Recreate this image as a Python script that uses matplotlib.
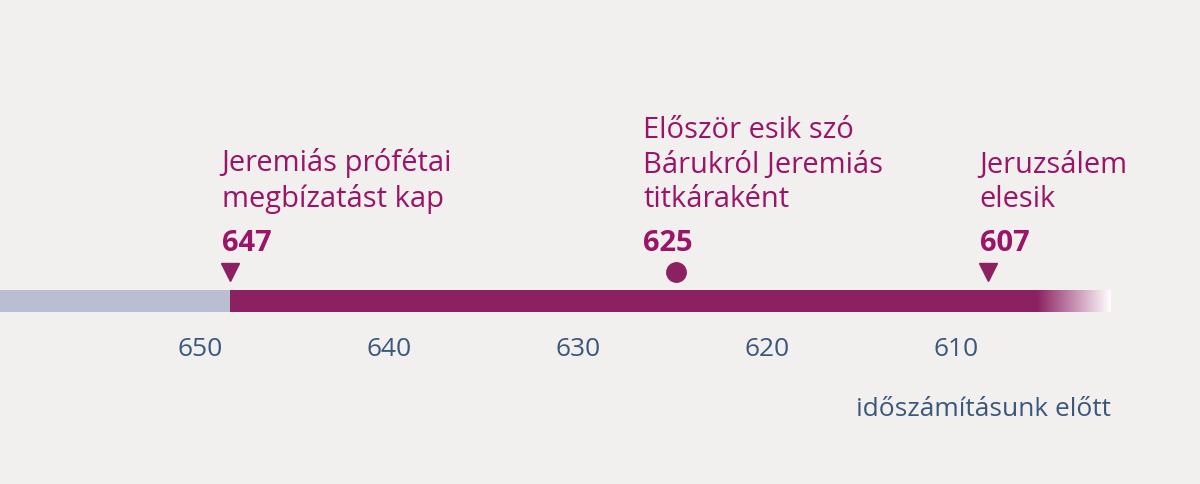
import matplotlib
matplotlib.use("Agg")
import matplotlib.pyplot as plt
import numpy as np
from matplotlib.colors import LinearSegmentedColormap

tick_years = [650, 640, 630, 620, 610]
event_years = [647, 625, 607]
event_pos = [648.4, 624.8, 608.3]
event_texts = ["Jeremiás prófétai\nmegbízatást kap",
               "Először esik szó\nBárukról Jeremiás\ntitkáraként",
               "Jeruzsálem\nelesik"]
event_marker = ["v", "o", "v"]
bar_start, bar_split, fade_start, bar_end = 660.6, 648.4, 605.7, 601.8

MAG = "#8c2162"; TXT = "#9c1468"; GREY = "#b9bed1"; BLUE = "#3b587c"
plt.rcParams["font.family"] = "Open Sans"

fig = plt.figure(figsize=(12, 4.84), dpi=100)
fig.patch.set_facecolor("#f1f0ee")
ax = fig.add_axes([0, 0, 1, 1])
ax.set_facecolor("#f1f0ee")
ax.axis("off")

ax.fill_between([bar_start, bar_split], 290, 312, color=GREY, lw=0)
ax.fill_between([bar_split, fade_start], 290, 312, color=MAG, lw=0)
cmap = LinearSegmentedColormap.from_list("f", [MAG, "#ffffff"])
grad = np.linspace(0, 1, 256).reshape(1, -1)
ax.imshow(grad, cmap=cmap, extent=[fade_start, bar_end, 312, 290], aspect="auto", zorder=2)
ax.set_xlim(660.58, 597.09)
ax.set_ylim(484, 0)

for y in tick_years:
    ax.text(y, 350, str(y), ha="center", va="center", fontsize=19, color=BLUE)
ax.text(bar_end, 410, "időszámításunk előtt", ha="right", va="center", fontsize=19, color=BLUE)

for yr, pos, txt, m in zip(event_years, event_pos, event_texts, event_marker):
    ax.plot(pos, 272, marker=m, color=MAG, markersize=14 if m == "o" else 13, ls="none")
    left = pos + 0.45 if m == "v" else pos + 1.75
    ax.text(left, 258, str(yr), ha="left", va="bottom", fontsize=21, fontweight="bold", color=TXT)
    ax.text(left, 214, txt, ha="left", va="bottom", fontsize=21, color=TXT, linespacing=1.25)

fig.savefig("out.png", dpi=100, facecolor=fig.get_facecolor())
